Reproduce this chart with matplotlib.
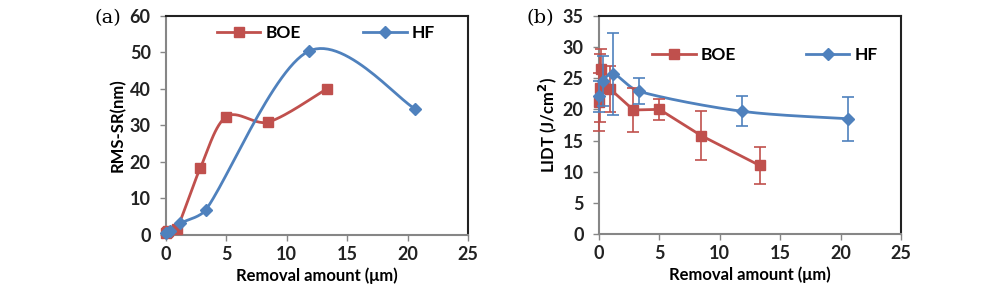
import numpy as np
import matplotlib
matplotlib.use("Agg")
import matplotlib.pyplot as plt

plt.rcParams['font.family'] = ['Lato', 'DejaVu Sans']

# (a) surface roughness vs removal amount
boe_x = [0.0, 0.1, 0.2, 0.9, 2.85, 5.0, 8.45, 13.3]
boe_rms = [0.5, 0.8, 1.2, 1.7, 18.4, 32.4, 30.9, 40.0]
hf_x = [0.0, 0.3, 1.2, 3.3, 11.8, 20.6]
hf_rms = [0.5, 1.2, 3.2, 6.9, 50.3, 34.6]

# (b) laser damage threshold vs removal amount
boe_lidt = [21.2, 23.4, 26.5, 23.3, 19.9, 20.0, 15.8, 11.0]
boe_err = [4.7, 5.5, 3.2, 3.7, 3.5, 1.7, 4.0, 2.9]
hf_lidt = [22.1, 24.5, 25.7, 22.9, 19.7, 18.5]
hf_err = [2.5, 4.0, 6.6, 2.1, 2.4, 3.5]

RED = '#C0504D'
BLUE = '#4F81BD'
GREY = '#868686'


def smooth(x, y, sx, sy, n=30):
    # Excel-like smoothed line, computed in pixel-like space so the
    # control points do not overshoot where points are close together
    p = np.column_stack([np.asarray(x) * sx, np.asarray(y) * sy]).astype(float)
    pts = [p[0]]
    for i in range(len(p) - 1):
        p0 = p[i - 1] if i > 0 else p[i]
        p1, p2 = p[i], p[i + 1]
        p3 = p[i + 2] if i + 2 < len(p) else p[i + 1]
        seglen = np.hypot(*(p2 - p1))
        t1 = (p2 - p0) / 6.0
        t2 = (p3 - p1) / 6.0
        for t in (t1, t2):
            L = np.hypot(*t)
            if L > seglen / 3.0 and L > 0:
                t *= seglen / 3.0 / L
        c1 = p1 + t1
        c2 = p2 - t2
        t = np.linspace(0, 1, n)[1:, None]
        seg = ((1 - t) ** 3) * p1 + 3 * ((1 - t) ** 2) * t * c1 + 3 * (1 - t) * t ** 2 * c2 + t ** 3 * p2
        pts.extend(seg)
    pts = np.array(pts)
    return pts[:, 0] / sx, pts[:, 1] / sy


def style(ax, ymax, ystep):
    ax.set_xlim(0, 25)
    ax.set_ylim(0, ymax)
    ax.set_xticks(np.arange(0, 26, 5))
    ax.set_yticks(np.arange(0, ymax + 1, ystep))
    for s in ['left', 'bottom']:
        ax.spines[s].set_color(GREY)
        ax.spines[s].set_linewidth(1.5)
    for s in ['top', 'right']:
        ax.spines[s].set_color('#222222')
        ax.spines[s].set_linewidth(1.5)
    ax.tick_params(direction='out', length=4, width=1, color=GREY,
                   labelsize=13, labelcolor='#222222')
    ax.tick_params(axis='y', pad=7)
    ax.tick_params(axis='x', pad=4)
    ax.set_xlabel('Removal amount (μm)', fontsize=12, fontweight='bold', labelpad=3)
    for lab in ax.get_xticklabels() + ax.get_yticklabels():
        lab.set_fontweight('bold')


fig = plt.figure(figsize=(10, 2.94), dpi=100)
ax1 = fig.add_axes([0.166, 0.201, 0.302, 0.745])
ax2 = fig.add_axes([0.599, 0.204, 0.302, 0.742])

# panel (a)
sx, sy = smooth(boe_x, boe_rms, 12.1, 3.63)
ax1.plot(sx, sy, color=RED, lw=2, zorder=2)
ax1.plot(boe_x, boe_rms, 's', color=RED, ms=7, zorder=3, clip_on=False)
hx, hy = smooth(hf_x, hf_rms, 12.1, 3.63)
ax1.plot(hx, hy, color=BLUE, lw=2, zorder=2)
ax1.plot(hf_x, hf_rms, 'D', color=BLUE, ms=6.5, zorder=4, clip_on=False)
ax1.plot([], [], '-s', color=RED, lw=2, ms=7, label='BOE')
ax1.plot([], [], '-D', color=BLUE, lw=2, ms=6.5, label='HF')
style(ax1, 60, 10)
ax1.set_ylabel('RMS-SR(nm)', fontsize=12, fontweight='bold', labelpad=3)
ax1.legend(loc='upper center', ncol=2, frameon=False, fontsize=12.5,
           columnspacing=3.6, handlelength=2.5, handletextpad=0.3,
           bbox_to_anchor=(0.53, 1.03))
for h in ax1.get_legend().get_texts():
    h.set_fontweight('bold')
fig.text(0.095, 0.922, '(a)', fontsize=14, family='DejaVu Serif')

# panel (b)
ax2.plot(boe_x, boe_lidt, '-', color=RED, lw=2, zorder=2)
ax2.errorbar(boe_x, boe_lidt, yerr=boe_err, fmt='s', color=RED, ms=7,
             ecolor=RED, elinewidth=1.2, capsize=4, capthick=1.2, zorder=3,
             clip_on=False)
hx, hy = smooth(hf_x, hf_lidt, 12.04, 6.19)
ax2.plot(hx, hy, color=BLUE, lw=2, zorder=2)
ax2.errorbar(hf_x, hf_lidt, yerr=hf_err, fmt='D', color=BLUE, ms=6.5,
             ecolor=BLUE, elinewidth=1.2, capsize=4, capthick=1.2, zorder=4,
             clip_on=False)
ax2.plot([], [], '-s', color=RED, lw=2, ms=7, label='BOE')
ax2.plot([], [], '-D', color=BLUE, lw=2, ms=6.5, label='HF')
style(ax2, 35, 5)
ax2.set_ylabel('LIDT (J/cm$^\\mathbf{2}$)', fontsize=12, fontweight='bold', labelpad=3)
ax2.legend(loc='upper center', ncol=2, frameon=False, fontsize=12.5,
           columnspacing=4.0, handlelength=2.5, handletextpad=0.3,
           bbox_to_anchor=(0.55, 0.93))
for h in ax2.get_legend().get_texts():
    h.set_fontweight('bold')
fig.text(0.526, 0.922, '(b)', fontsize=14, family='DejaVu Serif')

fig.savefig('out.png', dpi=100)
